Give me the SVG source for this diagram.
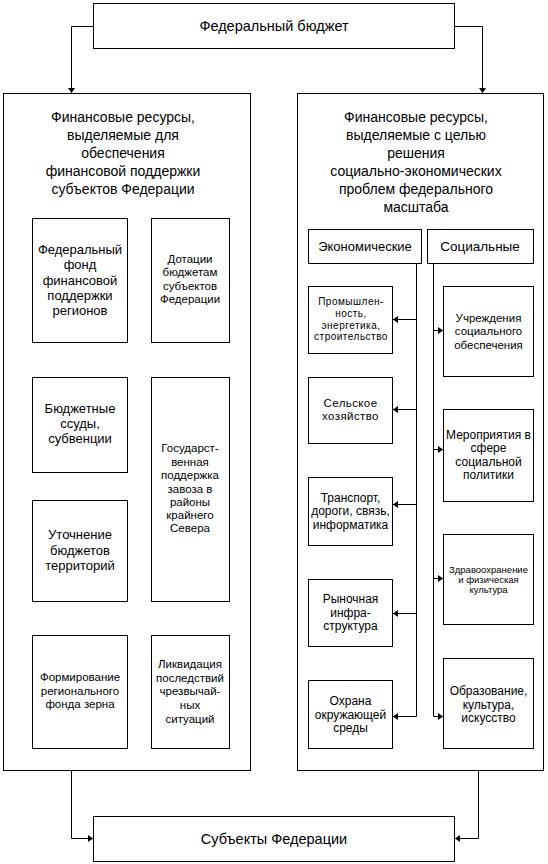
<svg xmlns="http://www.w3.org/2000/svg" width="548" height="864" viewBox="0 0 548 864">
<style>
rect{fill:#fff;stroke:#000;stroke-width:1}
.c path{fill:none;stroke:#000;stroke-width:1}
text{font-family:"Liberation Sans",Arial,sans-serif;fill:#000;text-anchor:middle}
.t14{font-size:14px}
.b14{font-size:13px}
.t13{font-size:12px}
.t12{font-size:11.5px}
.s12{font-size:11.5px}
.s10{font-size:10px;letter-spacing:0.5px}
.z10{font-size:9.5px}
</style>
<defs>
<marker id="ah" markerUnits="userSpaceOnUse" markerWidth="6" markerHeight="8" refX="5" refY="3.5" orient="auto">
<path d="M0,0 L5,3.5 L0,7 z" fill="#000"/>
</marker>
</defs>
<rect x="0" y="0" width="548" height="864" style="stroke:none"/>
<g id="top"><rect x="93.5" y="3.5" width="361" height="45"/><text class="t14" x="274" y="31" style="font-size:14.5px">Федеральный бюджет</text></g>
<g id="left-panel"><rect x="3.5" y="93.5" width="247" height="677"/>
<text class="t14" x="123"><tspan x="123" y="122">Финансовые ресурсы,</tspan><tspan x="123" y="140">выделяемые для</tspan><tspan x="123" y="158">обеспечения</tspan><tspan x="123" y="176">финансовой поддержки</tspan><tspan x="123" y="194">субъектов Федерации</tspan></text></g>
<g id="right-panel"><rect x="297.5" y="93.5" width="246" height="677"/>
<text class="t14" x="416"><tspan x="416" y="122">Финансовые ресурсы,</tspan><tspan x="416" y="140">выделяемые с целью</tspan><tspan x="416" y="158">решения</tspan><tspan x="416" y="176">социально-экономических</tspan><tspan x="416" y="194">проблем федерального</tspan><tspan x="416" y="212">масштаба</tspan></text></g>
<g id="l1"><rect x="32.5" y="218.5" width="95" height="124"/><text class="b14"><tspan x="80" y="254">Федеральный</tspan><tspan x="80" y="269">фонд</tspan><tspan x="80" y="285">финансовой</tspan><tspan x="80" y="300">поддержки</tspan><tspan x="80" y="315">регионов</tspan></text></g>
<g id="l2"><rect x="151.5" y="218.5" width="78" height="124"/><text class="s12"><tspan x="190" y="263">Дотации</tspan><tspan x="190" y="276">бюджетам</tspan><tspan x="190" y="290">субъектов</tspan><tspan x="190" y="303">Федерации</tspan></text></g>
<g id="l3"><rect x="32.5" y="377.5" width="95" height="95"/><text class="b14"><tspan x="80" y="413">Бюджетные</tspan><tspan x="80" y="428">ссуды,</tspan><tspan x="80" y="443">субвенции</tspan></text></g>
<g id="l4"><rect x="151.5" y="377.5" width="78" height="224"/><text class="t12"><tspan x="190" y="452">Государст-</tspan><tspan x="190" y="466">венная</tspan><tspan x="190" y="479">поддержка</tspan><tspan x="190" y="493">завоза в</tspan><tspan x="190" y="506">районы</tspan><tspan x="190" y="519">крайнего</tspan><tspan x="190" y="532">Севера</tspan></text></g>
<g id="l5"><rect x="32.5" y="500.5" width="95" height="101"/><text class="b14"><tspan x="80" y="539">Уточнение</tspan><tspan x="80" y="555">бюджетов</tspan><tspan x="80" y="570">территорий</tspan></text></g>
<g id="l6"><rect x="32.5" y="635.5" width="95" height="113"/><text class="t12"><tspan x="80" y="681">Формирование</tspan><tspan x="80" y="695">регионального</tspan><tspan x="80" y="708">фонда зерна</tspan></text></g>
<g id="l7"><rect x="151.5" y="635.5" width="78" height="113"/><text class="t12"><tspan x="190" y="668">Ликвидация</tspan><tspan x="190" y="682">последствий</tspan><tspan x="190" y="695">чрезвычай-</tspan><tspan x="190" y="709">ных</tspan><tspan x="190" y="723">ситуаций</tspan></text></g>
<g id="econ"><rect x="308.5" y="229.5" width="113" height="34"/><text x="365" y="251" style="font-size:13px">Экономические</text></g>
<g id="soc"><rect x="427.5" y="229.5" width="106" height="34"/><text class="t14" x="480" y="251" style="font-size:13.5px">Социальные</text></g>
<g id="e1"><rect x="308.5" y="286.5" width="84" height="67"/><text class="s10"><tspan x="351" y="305">Промышлен-</tspan><tspan x="351" y="317">ность,</tspan><tspan x="351" y="329">энергетика,</tspan><tspan x="351" y="340">строительство</tspan></text></g>
<g id="e2"><rect x="308.5" y="377.5" width="84" height="66"/><text class="s12" style="letter-spacing:0.4px"><tspan x="350.5" y="407">Сельское</tspan><tspan x="350.5" y="420">хозяйство</tspan></text></g>
<g id="e3"><rect x="308.5" y="477.5" width="84" height="68"/><text class="t13"><tspan x="350.5" y="502">Транспорт,</tspan><tspan x="350.5" y="515">дороги, связь,</tspan><tspan x="350.5" y="528.5">информатика</tspan></text></g>
<g id="e4"><rect x="308.5" y="579.5" width="84" height="67"/><text class="t13"><tspan x="350.5" y="602.5">Рыночная</tspan><tspan x="350.5" y="617">инфра-</tspan><tspan x="350.5" y="630">структура</tspan></text></g>
<g id="e5"><rect x="308.5" y="680.5" width="84" height="68"/><text class="t13"><tspan x="350.5" y="704.5">Охрана</tspan><tspan x="350.5" y="718.5">окружающей</tspan><tspan x="350.5" y="732">среды</tspan></text></g>
<g id="s1"><rect x="443.5" y="286.5" width="90" height="90"/><text class="t12"><tspan x="488.5" y="321.5">Учреждения</tspan><tspan x="488.5" y="335">социального</tspan><tspan x="488.5" y="348.5">обеспечения</tspan></text></g>
<g id="s2"><rect x="443.5" y="409.5" width="90" height="92"/><text class="t13"><tspan x="488.5" y="438.5">Мероприятия в</tspan><tspan x="488.5" y="452">сфере</tspan><tspan x="488.5" y="465.5">социальной</tspan><tspan x="488.5" y="478.5">политики</tspan></text></g>
<g id="s3"><rect x="443.5" y="534.5" width="90" height="90"/><text class="z10"><tspan x="488.5" y="572.5">Здравоохранение</tspan><tspan x="488.5" y="582.5">и физическая</tspan><tspan x="488.5" y="592.5">культура</tspan></text></g>
<g id="s4"><rect x="443.5" y="658.5" width="90" height="90"/><text class="t13"><tspan x="488.5" y="694.5">Образование,</tspan><tspan x="488.5" y="708.5">культура,</tspan><tspan x="488.5" y="722">искусство</tspan></text></g>
<g id="bottom"><rect x="93.5" y="816.5" width="361" height="45"/><text class="t14" x="274" y="843.5" style="font-size:14.5px">Субъекты Федерации</text></g>
<g class="c" id="connectors">
<path d="M93.5,26.5 H71.5 V93" marker-end="url(#ah)"/>
<path d="M454.5,26.5 H482.5 V93" marker-end="url(#ah)"/>
<path d="M71.5,770.5 V838.5 H93" marker-end="url(#ah)"/>
<path d="M478.5,770.5 V838.5 H455" marker-end="url(#ah)"/>
<path d="M416.5,263.5 V716.5"/>
<path d="M433.5,263.5 V716.5"/>
<path d="M416.5,319.5 H393" marker-end="url(#ah)"/>
<path d="M416.5,409.5 H393" marker-end="url(#ah)"/>
<path d="M416.5,504.5 H393" marker-end="url(#ah)"/>
<path d="M416.5,613.5 H393" marker-end="url(#ah)"/>
<path d="M416.5,716.5 H393" marker-end="url(#ah)"/>
<path d="M433.5,330.5 H443" marker-end="url(#ah)"/>
<path d="M433.5,449.5 H443" marker-end="url(#ah)"/>
<path d="M433.5,578.5 H443" marker-end="url(#ah)"/>
<path d="M433.5,716.5 H443" marker-end="url(#ah)"/>
</g>
</svg>
